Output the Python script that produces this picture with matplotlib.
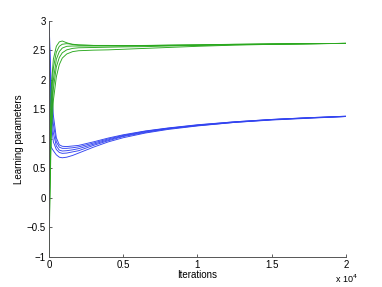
import matplotlib
matplotlib.use("Agg")
import matplotlib.pyplot as plt
import numpy as np

plt.rcParams['font.family'] = ['Liberation Sans', 'DejaVu Sans']

# iteration samples
iters = [0, 50, 150, 300, 500, 700, 900, 1200, 1600, 2000, 3000, 4000,
         5000, 6500, 8000, 10000, 12500, 15000, 17500, 20000]

# blue parameters (5 runs)
blue_1 = [3.0, 1.4, 0.86, 0.80, 0.73, 0.69, 0.68, 0.69, 0.72, 0.76, 0.86, 0.95,
          1.02, 1.10, 1.16, 1.22, 1.28, 1.32, 1.35, 1.38]
blue_2 = [3.0, 2.0, 1.30, 0.95, 0.82, 0.77, 0.755, 0.76, 0.78, 0.80, 0.89, 0.97,
          1.04, 1.11, 1.17, 1.225, 1.28, 1.325, 1.355, 1.38]
blue_3 = [3.0, 2.3, 1.55, 1.10, 0.88, 0.81, 0.795, 0.80, 0.815, 0.835, 0.91, 0.985,
          1.05, 1.12, 1.175, 1.23, 1.285, 1.327, 1.357, 1.38]
blue_4 = [3.0, 2.5, 1.75, 1.25, 0.95, 0.86, 0.84, 0.84, 0.85, 0.865, 0.93, 1.0,
          1.06, 1.13, 1.18, 1.235, 1.29, 1.33, 1.36, 1.385]
blue_5 = [3.0, 2.7, 1.95, 1.40, 1.02, 0.90, 0.875, 0.87, 0.88, 0.89, 0.95, 1.015,
          1.07, 1.135, 1.185, 1.24, 1.29, 1.33, 1.36, 1.385]

# green parameters (5 runs)
green_1 = [-1.2, 0.6, 1.85, 2.35, 2.57, 2.645, 2.66, 2.63, 2.60, 2.59, 2.585, 2.585,
           2.582, 2.585, 2.59, 2.595, 2.605, 2.61, 2.615, 2.62]
green_2 = [-1.2, 0.3, 1.6, 2.2, 2.47, 2.57, 2.605, 2.615, 2.605, 2.595, 2.585, 2.583,
           2.58, 2.583, 2.588, 2.593, 2.603, 2.61, 2.615, 2.62]
green_3 = [-1.2, 0.1, 1.4, 2.0, 2.35, 2.48, 2.54, 2.57, 2.575, 2.575, 2.575, 2.575,
           2.575, 2.58, 2.585, 2.59, 2.6, 2.608, 2.614, 2.62]
green_4 = [-1.2, -0.1, 1.2, 1.85, 2.22, 2.38, 2.46, 2.51, 2.535, 2.545, 2.55, 2.555,
           2.56, 2.565, 2.575, 2.585, 2.597, 2.606, 2.613, 2.62]
green_5 = [-1.2, -0.3, 1.0, 1.65, 2.05, 2.26, 2.37, 2.44, 2.48, 2.495, 2.505, 2.51,
           2.52, 2.535, 2.55, 2.57, 2.59, 2.603, 2.612, 2.62]

blues = [blue_1, blue_2, blue_3, blue_4, blue_5]
greens = [green_1, green_2, green_3, green_4, green_5]

fig = plt.figure(figsize=(3.82, 2.87), dpi=100)
ax = fig.add_axes([0.128, 0.105, 0.778, 0.822])

for b in blues:
    ax.plot(iters, b, color='#3344f0', lw=0.65)
for g in greens:
    ax.plot(iters, g, color='#2aa81e', lw=0.65)

ax.set_xlim(0, 20000)
ax.set_ylim(-1, 3)
ax.set_xticks([0, 5000, 10000, 15000, 20000])
ax.set_xticklabels(['0', '0.5', '1', '1.5', '2'])
ax.set_yticks([-1, -0.5, 0, 0.5, 1, 1.5, 2, 2.5, 3])
ax.set_yticklabels(['\u22121', '\u22120.5', '0', '0.5', '1', '1.5', '2', '2.5', '3'])
ax.tick_params(direction='in', length=2.5, width=0.6, labelsize=7, pad=2,
               colors='#444444', labelcolor='black')
for s in ['top', 'right']:
    ax.spines[s].set_visible(False)
for s in ['left', 'bottom']:
    ax.spines[s].set_color('#555555')
    ax.spines[s].set_linewidth(0.7)

ax.set_xlabel('Iterations', fontsize=7, labelpad=0)
ax.set_ylabel('Learning parameters', fontsize=7, labelpad=2)
ax.text(1.0, -0.092, 'x 10$^{4}$', transform=ax.transAxes, fontsize=6.5,
        ha='center', va='center')

fig.savefig('out.png', dpi=100)
